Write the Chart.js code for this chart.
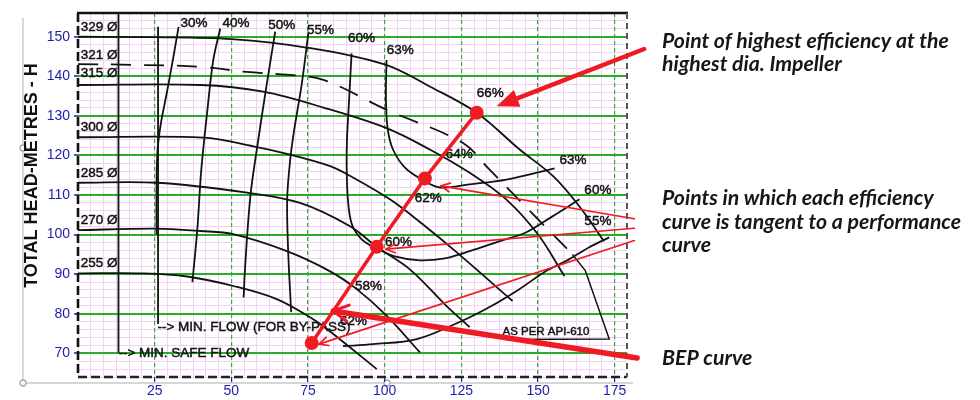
<!DOCTYPE html>
<html>
<head>
<meta charset="utf-8">
<title>Pump performance curves</title>
<script src="https://cdn.jsdelivr.net/npm/chart.js@4.4.1/dist/chart.umd.min.js"></script>
<style>
html,body{margin:0;padding:0;background:#ffffff;}
#wrap{width:980px;height:400px;position:relative;}
canvas{display:block;}
</style>
</head>
<body>
<div id="wrap"><canvas id="chart" width="980" height="400"></canvas></div>
<script>
// ---------------- data (flow, head) ----------------
const flowTicks = [25, 50, 75, 100, 125, 150, 175];
const headTicks = [70, 80, 90, 100, 110, 120, 130, 140, 150];

// impeller diameter head curves
const head329 = [[0,150],[24,149.9],[50,149.4],[75,147.2],[100,143],[115,137.3],[130,130.8],[144,121.5],[155,114.7],[163.5,107.1],[171.5,98.3]];
const head321 = [[0,143.1],[18,142.9],[40,142.4],[55,141.1],[68,140.4],[80,139.1],[100.7,131.5],[125.4,123.2],[134.2,116.4],[147,106.2],[159.6,96.3]];
const head315 = [[0,137.8],[40,137.8],[60.4,136.1],[80,132.1],[100.6,126.9],[114.7,121.5],[127.7,115.6],[139.6,108.9],[150,100],[158.6,89.5]];
const head300 = [[0,124.6],[40.9,124.5],[57.2,122.3],[69.2,120.2],[82.2,117.3],[88.8,114.8],[101.7,108.9],[112.4,102.6],[123.5,95.5],[141.7,83.2]];
const head285 = [[0,113.1],[25.8,113.1],[55.1,110.6],[72.4,108],[88.7,102.1],[97.4,96.9],[108.2,91.2],[120.1,82],[127.7,76.6]];
const head270 = [[0,101.1],[25,101.5],[40,100.9],[50.6,100.1],[68.1,95.8],[82.2,90.7],[90.9,86.2],[100.6,79.5],[111.5,70.2]];
const head255 = [[0,90.2],[21.5,90.2],[35.6,89.4],[50.7,87],[64.8,83.7],[76.7,78.6],[82.2,75.5],[97.4,66]];

// iso-efficiency curves
const eff30 = [[32.8,152.5],[30.9,144],[28.9,135.6],[27,128],[25.9,121],[25.6,110],[25.6,100]];
const eff40 = [[46.4,152.1],[44.1,144.1],[42.2,131.5],[40.2,116.4],[38.9,101.3],[37.3,88]];
const eff50 = [[64.3,151.3],[61.6,138.3],[58.3,121.5],[56.2,109.7],[54.5,92],[54,84.1]];
const eff55 = [[75.1,150.9],[73,138.3],[70.5,126.5],[69.2,119],[68.2,108.9],[68.5,96.3],[69.5,80.4]];
const eff60 = [[89.2,145.8],[88.4,134.1],[87.7,124],[87.6,117.3],[88,108.9],[89.3,102.6],[92.5,98.8],[97.4,96.5],[103.3,94.5],[111.4,93.5],[119.6,94],[127.7,95.8],[137.3,98.3],[146.2,100.6],[154.7,104.6],[163.5,108.9]];
const eff63 = [[100.6,144.1],[100.4,134.1],[101,126.5],[102.7,121.5],[106.6,116.9],[112.1,113.9],[118,111.9],[127.7,112.7],[139.7,113.9],[155.4,116.7]];
const eff55Low = [[86.4,71.8],[96.2,72.3],[110.5,73.6],[124.4,77.9],[134.2,81.7],[143.9,86.2],[152,90.5],[160.2,93.8],[166.7,96.8],[173.2,99.3]];

// limits
const apiLimit = [[161.2,95],[165.4,90.9],[173.2,73.6],[139.5,73.5]];
const minSafeFlow = [[13.2,156],[13.2,70.1]];
const minBypassFlow = [[26.1,152.5],[26.1,77.4]];

// best efficiency points
const bepPoints = [[76.2,72.6],[97.4,96.9],[113.1,114.2],[130,130.8]];

// chart texts anchored in (flow, head)
const chartLabels = [
  {t:'329 Ø', x:0.9, y:152.5}, {t:'321 Ø', x:0.9, y:145.2}, {t:'315 Ø', x:0.9, y:140.8},
  {t:'300 Ø', x:0.9, y:127.1}, {t:'285 Ø', x:0.9, y:115.6}, {t:'270 Ø', x:0.9, y:103.6},
  {t:'255 Ø', x:0.9, y:92.7},
  {t:'30%', x:33.4, y:153.5}, {t:'40%', x:47.1, y:153.4}, {t:'50%', x:62, y:152.9},
  {t:'55%', x:74.7, y:151.7}, {t:'60%', x:88, y:149.6}, {t:'63%', x:100.7, y:146.6},
  {t:'66%', x:130, y:135.6}, {t:'64%', x:119.9, y:120.2}, {t:'62%', x:109.8, y:109.1},
  {t:'60%', x:100.1, y:98}, {t:'58%', x:90.3, y:86.9}, {t:'62%', x:85.4, y:78.1},
  {t:'63%', x:157, y:118.8}, {t:'60%', x:165.1, y:111.2}, {t:'55%', x:165.1, y:103.4},
  {t:'--> MIN. FLOW (FOR BY-PASS)', x:25.9, y:76.5},
  {t:'--> MIN. SAFE FLOW', x:13.2, y:70.1},
  {t:'AS PER API-610', x:138.4, y:75.3, small:true}
];

// red arrows (flow, head)
const arrowSpecs = [
  {from:[184.6,146.9], to:[136.5,132.4], kind:'fat'},
  {from:[181.4,104.0], to:[118.3,112.3], kind:'thin'},
  {from:[181.4,101.6], to:[100.4,96.3], kind:'thin'},
  {from:[181.4,98.5], to:[78.6,72.3], kind:'thin'},
  {from:[182.3,68.8], to:[83.2,80.7], kind:'bold'}
];

const notes = [
  {lines:['Point of highest efficiency at the','highest dia. Impeller'], x:662, y:[41,64]},
  {lines:['Points in which each efficiency','curve is tangent to a performance','curve'], x:662, y:[198,222,245]},
  {lines:['BEP curve'], x:662, y:[358]}
];

// ---------------- chart ----------------
const BLACK = '#121212';
const RED = '#ee1c22';
const BLUE = '#1d1daa';
const SANS = '"Liberation Sans", Arial, Helvetica, sans-serif';

const pts = a => a.map(p => ({x: p[0], y: p[1]}));
const curve = (data, extra) => Object.assign({
  data: pts(data), showLine: true, pointRadius: 0, pointHoverRadius: 0,
  borderColor: BLACK, borderWidth: 1.8, tension: 0.35, fill: false, order: 1
}, extra || {});

const datasets = [
  curve(head329), curve(head321, {borderDash: [20, 13]}), curve(head315), curve(head300),
  curve(head285), curve(head270), curve(head255),
  curve(eff30), curve(eff40), curve(eff50), curve(eff55), curve(eff60), curve(eff63), curve(eff55Low),
  curve(apiLimit, {tension: 0, borderWidth: 1.5}),
  curve(minSafeFlow, {tension: 0}), curve(minBypassFlow, {tension: 0}),
  {data: pts(bepPoints), showLine: true, tension: 0, borderColor: RED, borderWidth: 3.5,
   pointRadius: 7, pointHoverRadius: 7, pointBackgroundColor: RED, pointBorderColor: RED, pointBorderWidth: 0, order: 0}
];
const BEP_INDEX = datasets.length - 1;

function drawArrow(ctx, x1, y1, x2, y2, kind) {
  const ang = Math.atan2(y2 - y1, x2 - x1);
  const c = Math.cos(ang), s = Math.sin(ang);
  ctx.save();
  ctx.strokeStyle = RED; ctx.fillStyle = RED; ctx.lineCap = 'round'; ctx.lineJoin = 'round';
  if (kind === 'fat') {
    const L = 22, W = 9;
    const bx = x2 - L * c, by = y2 - L * s;
    ctx.lineWidth = 4.5;
    ctx.beginPath(); ctx.moveTo(x1, y1); ctx.lineTo(bx + 2 * c, by + 2 * s); ctx.stroke();
    ctx.beginPath(); ctx.moveTo(x2, y2);
    ctx.lineTo(bx + W * s, by - W * c);
    ctx.lineTo(bx - W * s, by + W * c);
    ctx.closePath(); ctx.fill();
  } else {
    const bold = kind === 'bold';
    const L = bold ? 17 : 10, a = bold ? 0.5 : 0.45;
    ctx.lineWidth = bold ? 5.5 : 1.7;
    ctx.beginPath(); ctx.moveTo(x1, y1); ctx.lineTo(x2, y2); ctx.stroke();
    ctx.lineWidth = bold ? 3 : 1.7;
    ctx.beginPath();
    ctx.moveTo(x2 - L * Math.cos(ang - a), y2 - L * Math.sin(ang - a));
    ctx.lineTo(x2, y2);
    ctx.lineTo(x2 - L * Math.cos(ang + a), y2 - L * Math.sin(ang + a));
    ctx.stroke();
  }
  ctx.restore();
}

const decor = {
  id: 'decor',
  beforeDraw(chart) {
    const ctx = chart.ctx;
    ctx.save();
    ctx.fillStyle = '#ffffff';
    ctx.fillRect(0, 0, chart.width, chart.height);
    // outer image frame
    ctx.strokeStyle = '#c9c9c9'; ctx.lineWidth = 1.4;
    ctx.beginPath(); ctx.moveTo(23, 18); ctx.lineTo(23, 383); ctx.lineTo(633, 383); ctx.stroke();
    ctx.fillStyle = '#ffffff'; ctx.strokeStyle = '#a8a8a8'; ctx.lineWidth = 1.3;
    [[23, 148], [23, 383], [387, 383]].forEach(p => {
      ctx.beginPath(); ctx.arc(p[0], p[1], 3, 0, Math.PI * 2); ctx.fill(); ctx.stroke();
    });
    ctx.restore();
  },
  beforeDatasetsDraw(chart) {
    const {ctx, chartArea: a} = chart;
    ctx.save();
    ctx.strokeStyle = '#111'; ctx.lineWidth = 2.6;
    ctx.beginPath(); ctx.moveTo(a.left - 1, a.top); ctx.lineTo(a.right + 1, a.top); ctx.stroke();
    ctx.setLineDash([9, 4]);
    ctx.beginPath(); ctx.moveTo(a.left, a.top); ctx.lineTo(a.left, a.bottom); ctx.stroke();
    ctx.strokeStyle = '#222';
    ctx.beginPath(); ctx.moveTo(a.left, a.bottom); ctx.lineTo(a.right, a.bottom); ctx.stroke();
    ctx.strokeStyle = '#555'; ctx.lineWidth = 2; ctx.setLineDash([6, 4]);
    ctx.beginPath(); ctx.moveTo(a.right, a.top); ctx.lineTo(a.right, a.bottom); ctx.stroke();
    ctx.restore();
  },
  beforeDatasetDraw(chart, args) {
    if (args.index !== BEP_INDEX) return;
    const ctx = chart.ctx, sx = chart.scales.x, sy = chart.scales.y;
    ctx.save();
    ctx.fillStyle = '#111'; ctx.strokeStyle = '#111'; ctx.lineWidth = 0.45;
    ctx.textBaseline = 'middle'; ctx.textAlign = 'left';
    chartLabels.forEach(l => {
      ctx.font = (l.small ? '11.5px ' : '13.5px ') + SANS;
      const px = sx.getPixelForValue(l.x), py = sy.getPixelForValue(l.y);
      ctx.fillText(l.t, px, py);
      ctx.strokeText(l.t, px, py);
    });
    ctx.restore();
  },
  afterDatasetsDraw(chart) {
    const ctx = chart.ctx, sx = chart.scales.x, sy = chart.scales.y;
    arrowSpecs.forEach(a => drawArrow(ctx,
      sx.getPixelForValue(a.from[0]), sy.getPixelForValue(a.from[1]),
      sx.getPixelForValue(a.to[0]), sy.getPixelForValue(a.to[1]), a.kind));
    // notes
    ctx.save();
    const fam = 'Lato, "Open Sans", sans-serif';
    ctx.font = 'italic 700 17px ' + fam;
    const size = 17 * 287 / ctx.measureText(notes[0].lines[0]).width;
    ctx.font = 'italic 700 ' + size.toFixed(2) + 'px ' + fam;
    ctx.fillStyle = '#161616'; ctx.textBaseline = 'middle'; ctx.textAlign = 'left';
    notes.forEach(n => n.lines.forEach((t, i) => ctx.fillText(t, n.x, n.y[i])));
    ctx.restore();
    // y axis title
    ctx.save();
    const title = 'TOTAL HEAD-METRES - H';
    ctx.font = 'bold 16px ' + SANS;
    const ts = 16 * 225 / ctx.measureText(title).width;
    ctx.font = 'bold ' + ts.toFixed(2) + 'px ' + SANS;
    ctx.translate(32.5, 175.5); ctx.rotate(-Math.PI / 2);
    ctx.fillStyle = '#111'; ctx.textAlign = 'center'; ctx.textBaseline = 'middle';
    ctx.fillText(title, 0, 0);
    ctx.restore();
  }
};

new Chart(document.getElementById('chart'), {
  type: 'scatter',
  data: {datasets},
  options: {
    responsive: false, animation: false, events: [],
    layout: {padding: {left: 0, right: 353, top: 13, bottom: 0}},
    plugins: {legend: {display: false}, tooltip: {enabled: false}},
    scales: {
      x: {
        type: 'linear', position: 'bottom', min: 0, max: 179,
        afterBuildTicks: s => { s.ticks = flowTicks.map(v => ({value: v})); },
        afterFit: s => { s.height = 23; },
        ticks: {color: BLUE, font: {family: SANS, size: 14}, padding: 1, maxRotation: 0, autoSkip: false},
        grid: {color: '#3aa83a', lineWidth: 1.2, tickColor: BLUE, tickLength: 5, tickWidth: 1.2},
        border: {display: false, dash: [4, 3]}
      },
      y: {
        type: 'linear', position: 'left', min: 64, max: 156,
        afterBuildTicks: s => { s.ticks = headTicks.map(v => ({value: v})); },
        afterFit: s => { s.width = 78; },
        ticks: {color: BLUE, font: {family: SANS, size: 14}, padding: 4, autoSkip: false},
        grid: {color: '#2aac2a', lineWidth: 2, tickColor: BLUE, tickLength: 4, tickWidth: 1.5},
        border: {display: false}
      },
      xMinor: {
        type: 'linear', position: 'bottom', min: 0, max: 179,
        afterFit: s => { s.height = 0; },
        ticks: {display: false, stepSize: 25 / 6, includeBounds: false},
        grid: {color: '#f4d0f4', lineWidth: 1, drawTicks: false, z: -2},
        border: {display: false}
      },
      yMinor: {
        type: 'linear', position: 'left', min: 64, max: 156,
        afterFit: s => { s.width = 0; },
        ticks: {display: false, stepSize: 2, includeBounds: false},
        grid: {color: '#f4d0f4', lineWidth: 1, drawTicks: false, z: -2},
        border: {display: false}
      }
    }
  },
  plugins: [decor]
});
</script>
</body>
</html>
